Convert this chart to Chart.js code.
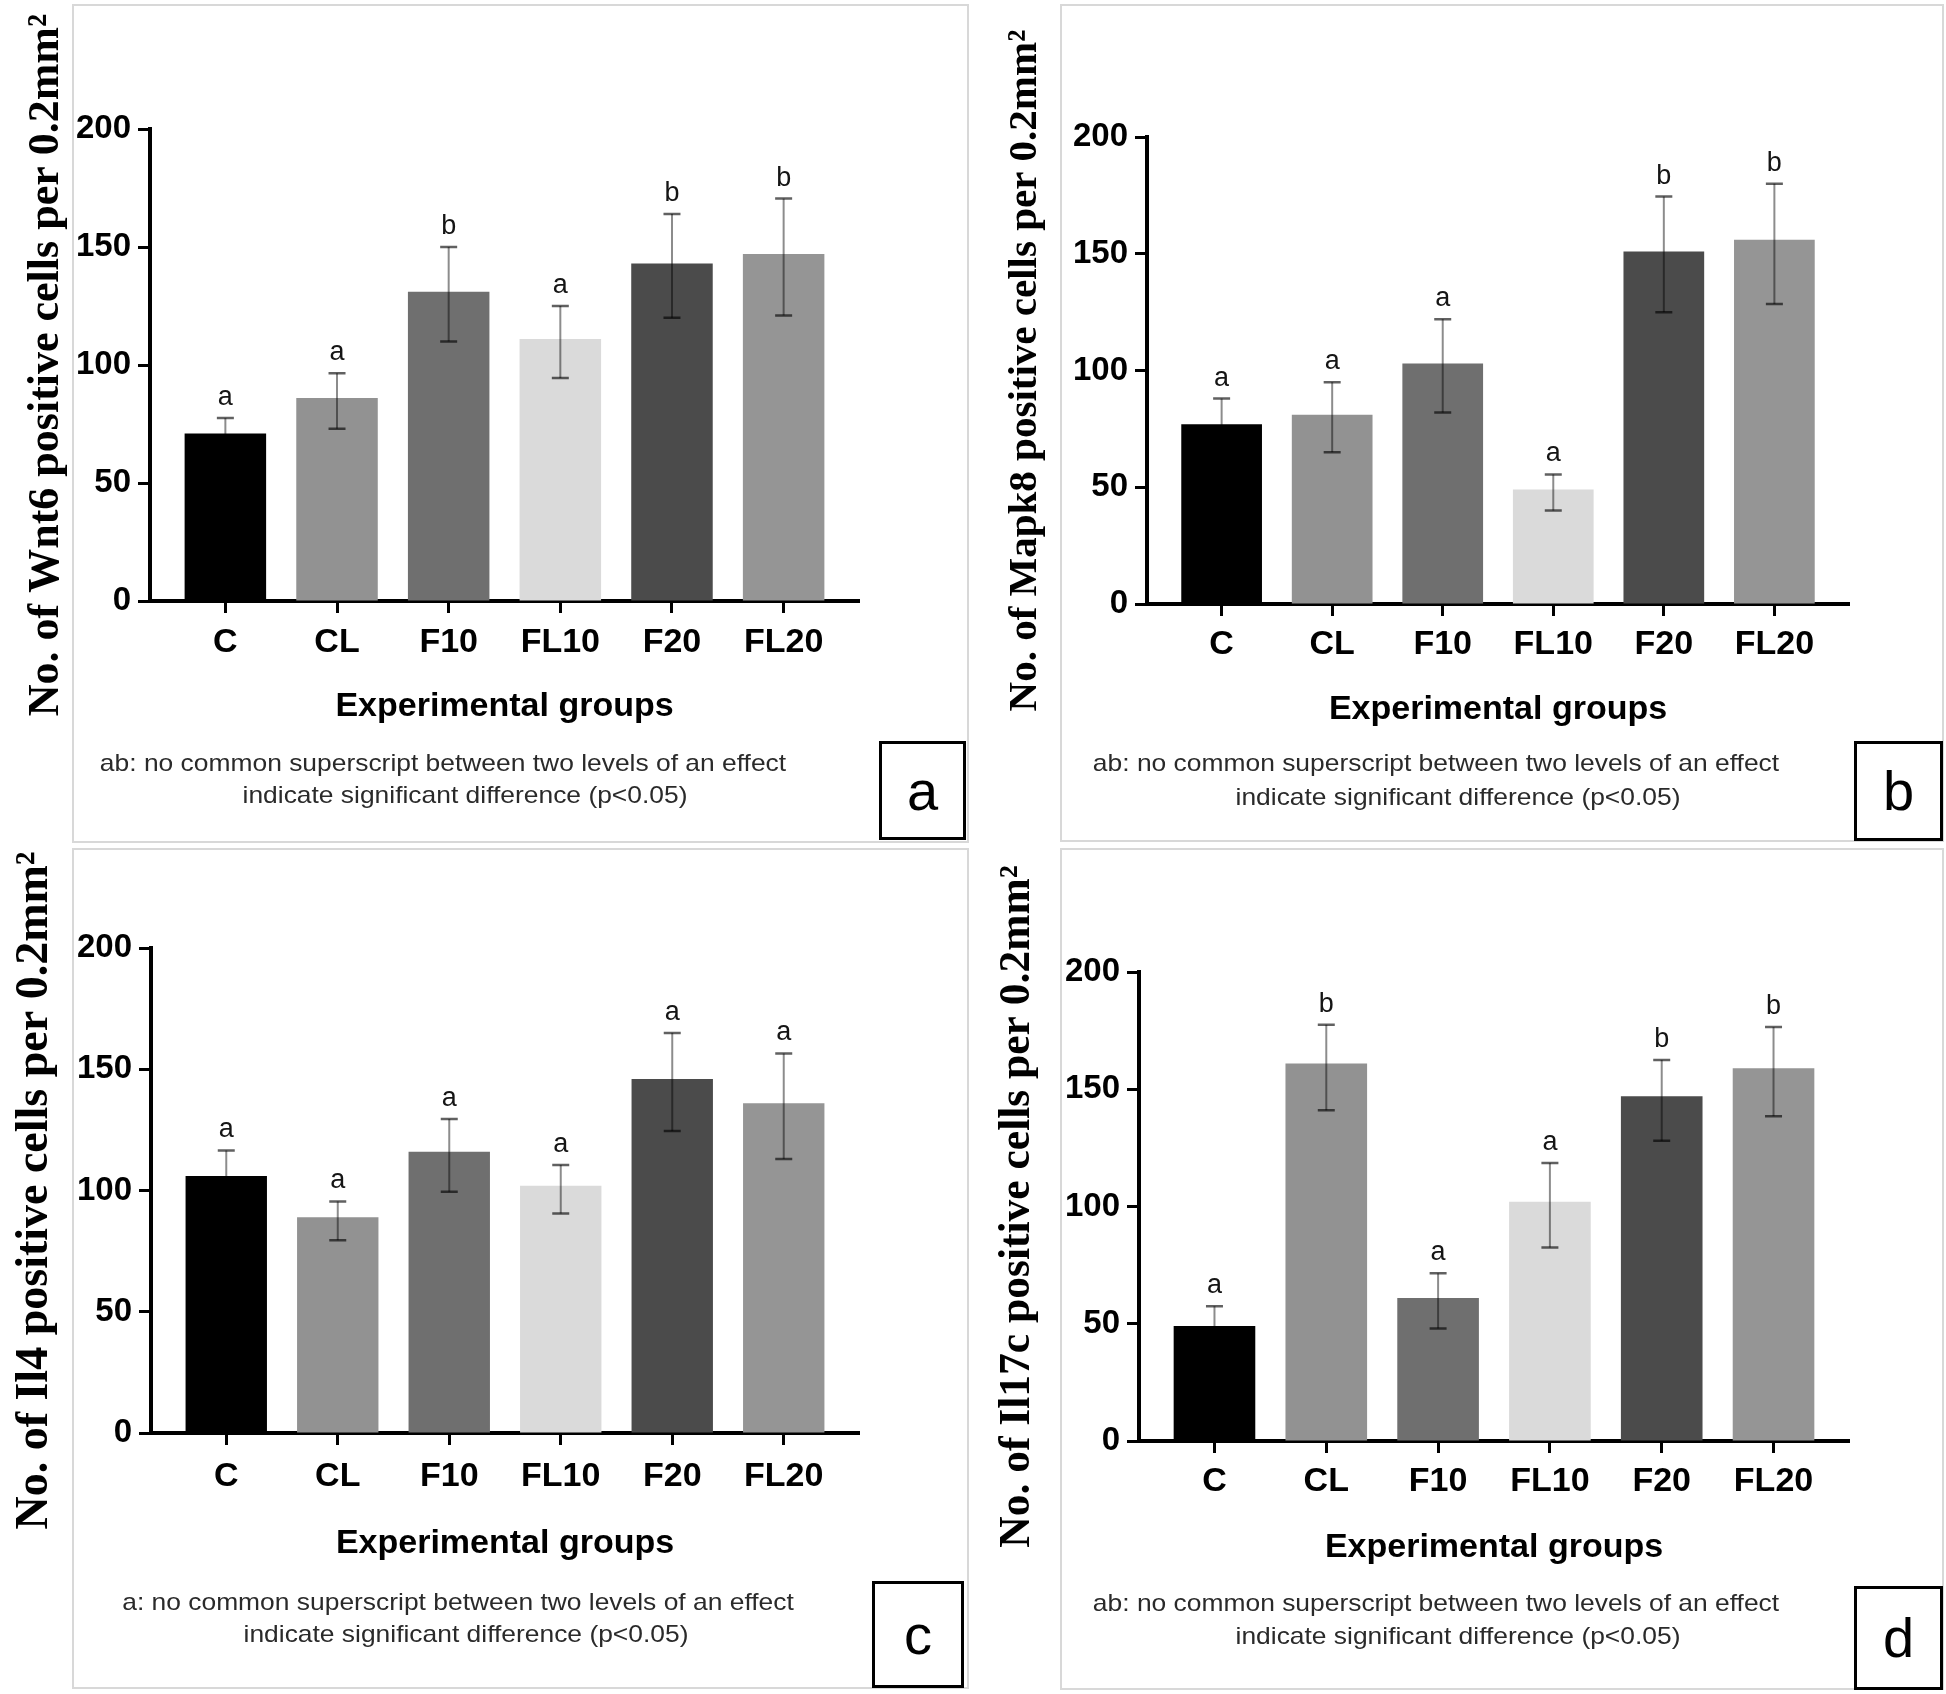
<!DOCTYPE html>
<html><head><meta charset="utf-8">
<script src="https://cdn.jsdelivr.net/npm/chart.js@4.4.1/dist/chart.umd.min.js"></script>
<style>
html,body{margin:0;padding:0;background:#fff;}
body{width:1946px;height:1694px;position:relative;overflow:hidden;font-family:'Liberation Sans',Arial,sans-serif;}
.frame{position:absolute;border:2px solid #d8d8d8;box-sizing:border-box;}
.cv{position:absolute;}
.note{position:absolute;font-size:24px;line-height:30px;height:30px;color:#2a2a2a;white-space:nowrap;transform:translateX(-50%) scaleX(1.1);}
.tag{position:absolute;border:3px solid #000;box-sizing:border-box;background:#fff;display:flex;align-items:center;justify-content:center;font-size:56px;color:#000;line-height:1;}
</style></head><body>
<script>
// ---------------- data ----------------
const categories = ['C', 'CL', 'F10', 'FL10', 'F20', 'FL20'];
const yTicks = [0, 50, 100, 150, 200];

const wnt6Mean  = [71, 86, 131, 111, 143, 147];
const wnt6Upper = [77.5, 96.5, 150, 125, 164, 170.5];
const wnt6Lower = [64.5, 73, 110, 94.5, 120, 121];
const wnt6Letters = ['a', 'a', 'b', 'a', 'b', 'b'];

const mapk8Mean  = [77, 81, 103, 49, 151, 156];
const mapk8Upper = [88, 95, 122, 55.5, 174.5, 180];
const mapk8Lower = [66, 65, 82, 40, 125, 128.5];
const mapk8Letters = ['a', 'a', 'a', 'a', 'b', 'b'];

const il4Mean  = [106, 89, 116, 102, 146, 136];
const il4Upper = [116.5, 95.5, 129.5, 110.5, 165, 156.5];
const il4Lower = [95.5, 79.5, 99.5, 90.5, 124.5, 113];
const il4Letters = ['a', 'a', 'a', 'a', 'a', 'a'];

const il17cMean  = [49, 161, 61, 102, 147, 159];
const il17cUpper = [57.5, 177.5, 71.5, 118.5, 162.5, 176.5];
const il17cLower = [40.5, 141, 48, 82.5, 128, 138.5];
const il17cLetters = ['a', 'b', 'a', 'a', 'b', 'b'];

const xTitle = 'Experimental groups';
const yTitles = [
  'No. of Wnt6 positive cells per 0.2mm²',
  'No. of Mapk8 positive cells per 0.2mm²',
  'No. of Il4 positive cells per 0.2mm²',
  'No. of Il17c positive cells per 0.2mm²'
];
const notesAB = ['ab: no common superscript between two levels of an effect', 'indicate significant difference (p<0.05)'];
const notesA  = ['a: no common superscript between two levels of an effect', 'indicate significant difference (p<0.05)'];
const panelTags = ['a', 'b', 'c', 'd'];

// ---------------- styles / layout ----------------
const barColors = ['#000000', '#929292', '#6f6f6f', '#dadada', '#4b4b4b', '#959595'];

const panels = [
  { mean: wnt6Mean, upper: wnt6Upper, lower: wnt6Lower, letters: wnt6Letters, title: yTitles[0], notes: notesAB, tag: panelTags[0],
    frame: [72, 4, 969, 843], cv: {x: 0, y: 0, w: 970, h: 846}, yW: 150, padTop: 129, padRight: 111, xH: 245, xPb: 118.6, yFs: 44, yPt: 20.6, tickPad: 9,
    noteLines: [[443, 763], [465, 795]], box: [879, 741, 87, 99] },
  { mean: mapk8Mean, upper: mapk8Upper, lower: mapk8Lower, letters: mapk8Letters, title: yTitles[1], notes: notesAB, tag: panelTags[1],
    frame: [1060, 4, 1944, 842], cv: {x: 975, y: 0, w: 971, h: 846}, yW: 172, padTop: 137, padRight: 97, xH: 242, xPb: 115.6, yFs: 41, yPt: 25.4, tickPad: 8,
    noteLines: [[1436, 763], [1458, 797]], box: [1854, 741, 89, 100] },
  { mean: il4Mean, upper: il4Upper, lower: il4Lower, letters: il4Letters, title: yTitles[2], notes: notesA, tag: panelTags[2],
    frame: [72, 848, 969, 1689], cv: {x: 0, y: 846, w: 970, h: 848}, yW: 151, padTop: 102, padRight: 111, xH: 261, xPb: 129.6, yFs: 46, yPt: 7.4, tickPad: 11,
    noteLines: [[458, 1602], [466, 1634]], box: [872, 1581, 92, 107] },
  { mean: il17cMean, upper: il17cUpper, lower: il17cLower, letters: il17cLetters, title: yTitles[3], notes: notesAB, tag: panelTags[3],
    frame: [1060, 848, 1944, 1690], cv: {x: 975, y: 846, w: 971, h: 848}, yW: 164, padTop: 126, padRight: 97, xH: 253, xPb: 125.6, yFs: 43.5, yPt: 16.9, tickPad: 8,
    noteLines: [[1436, 1603], [1458, 1636]], box: [1854, 1586, 89, 104] }
];

Chart.defaults.font.family = "'Liberation Sans', Arial, sans-serif";
Chart.defaults.color = '#000';

const errPlugin = {
  id: 'errbars',
  afterDatasetsDraw(chart, args, opts) {
    const ctx = chart.ctx, xs = chart.scales.x, ys = chart.scales.y;
    ctx.save();
    opts.upper.forEach((hi, i) => {
      const px = xs.getPixelForValue(i);
      const pt = ys.getPixelForValue(hi);
      const pb = ys.getPixelForValue(opts.lower[i]);
      ctx.strokeStyle = 'rgba(0,0,0,0.45)';
      ctx.lineWidth = 2;
      ctx.beginPath(); ctx.moveTo(px, pt); ctx.lineTo(px, pb); ctx.stroke();
      ctx.strokeStyle = 'rgba(0,0,0,0.62)';
      ctx.lineWidth = 2.5;
      ctx.beginPath();
      ctx.moveTo(px - 8.5, pt); ctx.lineTo(px + 8.5, pt);
      ctx.moveTo(px - 8.5, pb); ctx.lineTo(px + 8.5, pb);
      ctx.stroke();
      ctx.fillStyle = '#151515';
      ctx.font = "27px 'Liberation Sans', Arial, sans-serif";
      ctx.textAlign = 'center';
      ctx.textBaseline = 'alphabetic';
      ctx.fillText(opts.letters[i], px, pt - 13);
    });
    ctx.restore();
  }
};

function addDiv(cls, style, text) {
  const d = document.createElement('div');
  d.className = cls;
  Object.assign(d.style, style);
  if (text !== undefined) d.textContent = text;
  document.body.appendChild(d);
  return d;
}

panels.forEach(p => {
  const [fx1, fy1, fx2, fy2] = p.frame;
  addDiv('frame', {left: fx1 + 'px', top: fy1 + 'px', width: (fx2 - fx1) + 'px', height: (fy2 - fy1) + 'px'});
});

panels.forEach(p => {
  const c = document.createElement('canvas');
  c.className = 'cv';
  c.width = p.cv.w; c.height = p.cv.h;
  Object.assign(c.style, {left: p.cv.x + 'px', top: p.cv.y + 'px', width: p.cv.w + 'px', height: p.cv.h + 'px'});
  document.body.appendChild(c);

  new Chart(c.getContext('2d'), {
    type: 'bar',
    data: {
      datasets: [{
        data: categories.map((cat, i) => ({x: i, y: p.mean[i]})),
        backgroundColor: barColors,
        borderWidth: 0,
        categoryPercentage: 1,
        barPercentage: 0.73
      }]
    },
    options: {
      responsive: false,
      animation: false,
      devicePixelRatio: 1,
      layout: {padding: {left: 0, top: p.padTop, right: p.padRight, bottom: 0}},
      plugins: {
        legend: {display: false},
        tooltip: {enabled: false},
        errbars: {upper: p.upper, lower: p.lower, letters: p.letters}
      },
      scales: {
        x: {
          type: 'linear',
          min: -0.675, max: 5.675,
          offset: false,
          afterBuildTicks: s => { s.ticks = categories.map((cat, i) => ({value: i})); },
          afterFit: s => { s.height = p.xH; },
          ticks: {
            autoSkip: false, maxRotation: 0, padding: p.tickPad, color: '#000',
            font: {size: 34, weight: 'bold'},
            callback: v => categories[v]
          },
          grid: {display: true, offset: false, drawOnChartArea: false, drawTicks: true, tickLength: 12, tickWidth: 3, tickColor: '#000', color: '#000'},
          border: {display: true, color: '#000', width: 4},
          title: {display: true, text: xTitle, color: '#000', font: {size: 34, weight: 'bold'}, padding: {top: 0, bottom: p.xPb}}
        },
        y: {
          type: 'linear',
          min: 0, max: 200,
          afterBuildTicks: s => { s.ticks = yTicks.map(v => ({value: v})); },
          afterFit: s => { s.width = p.yW; },
          ticks: {padding: 7, color: '#000', font: {size: 33, weight: 'bold'}},
          grid: {display: true, drawOnChartArea: false, drawTicks: true, tickLength: 12, tickWidth: 3, tickColor: '#000', color: '#000'},
          border: {display: true, color: '#000', width: 4},
          title: {display: true, text: p.title, color: '#000', font: {family: "'Liberation Serif', 'Times New Roman', serif", size: p.yFs, weight: 'bold'}, padding: {top: p.yPt, bottom: 0}}
        }
      }
    },
    plugins: [errPlugin]
  });
});

panels.forEach(p => {
  p.notes.forEach((line, k) => {
    const [cx, cy] = p.noteLines[k];
    addDiv('note', {left: cx + 'px', top: (cy - 15) + 'px'}, line);
  });
  const [bx, by, bw, bh] = p.box;
  addDiv('tag', {left: bx + 'px', top: by + 'px', width: bw + 'px', height: bh + 'px'}, p.tag);
});
</script>
</body></html>
